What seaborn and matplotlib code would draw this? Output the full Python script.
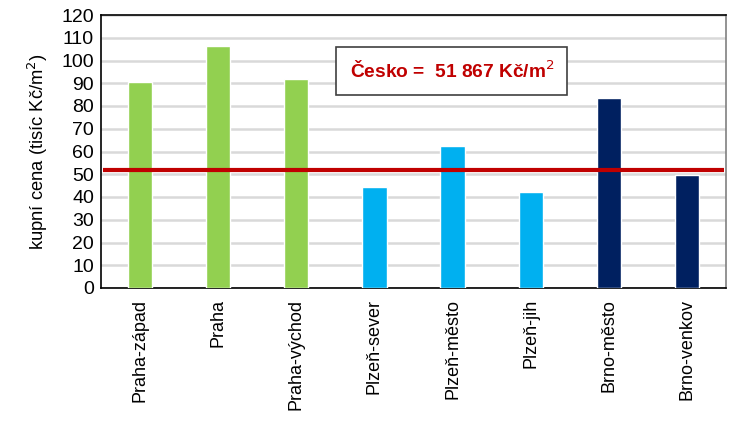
import matplotlib
matplotlib.use("Agg")
import matplotlib.pyplot as plt
import seaborn as sns
import pandas as pd

categories = ["Praha-západ", "Praha", "Praha-východ", "Plzeň-sever",
              "Plzeň-město", "Plzeň-jih", "Brno-město", "Brno-venkov"]
values = [90.5, 106.5, 91.7, 44.4, 62.4, 42.1, 83.7, 49.8]
colors = ["#92D050", "#92D050", "#92D050", "#00B0F0",
          "#00B0F0", "#00B0F0", "#002060", "#002060"]
cesko = 51.867
yticks = list(range(0, 121, 10))

sns.set_theme(style="white")
plt.rcParams["font.family"] = ["Liberation Sans", "DejaVu Sans"]

df = pd.DataFrame({"okres": categories, "cena": values})

fig = plt.figure(figsize=(7.5, 4.21), dpi=100)
ax = fig.add_axes([101/750, 1-288/421, (726-101)/750, (288-15)/421])

sns.barplot(data=df, x="okres", y="cena", hue="okres", palette=colors,
            legend=False, width=0.31, ax=ax, zorder=3, saturation=1)

ax.set_ylim(0, 120)
ax.set_xlim(-0.5, len(categories) - 0.5)
ax.set_yticks(yticks)
ax.yaxis.grid(True, color="#D9D9D9", linewidth=1.8, zorder=0)
ax.set_axisbelow(True)
ax.tick_params(axis="y", labelsize=14, length=0, pad=5)
ax.tick_params(axis="x", labelsize=13, length=0, pad=8, rotation=90)
for lbl in ax.get_yticklabels():
    lbl.set_color("black")
for lbl in ax.get_xticklabels():
    lbl.set_color("black")

ax.plot([-0.47, len(categories) - 0.53], [cesko, cesko], color="#C00000",
        linewidth=3.0, zorder=4, solid_capstyle="butt")

for side in ["left", "bottom", "top"]:
    ax.spines[side].set_color("black")
    ax.spines[side].set_linewidth(1.2)
ax.spines["right"].set_color("#808080")
ax.spines["right"].set_linewidth(1.2)

ax.set_xlabel("")
ax.set_ylabel("kupní cena (tisíc Kč/m$^2$)", fontsize=13.2, labelpad=8, color="black")

ax.text(3.99, 95.4, "Česko =  51 867 Kč/m$^{2}$", transform=ax.transData,
        ha="center", va="center", fontsize=13.8, fontweight="bold", color="#C00000",
        zorder=5,
        bbox=dict(boxstyle="square,pad=0.7", facecolor="white",
                  edgecolor="#404040", linewidth=1.2))

fig.savefig("out.png", dpi=100)
